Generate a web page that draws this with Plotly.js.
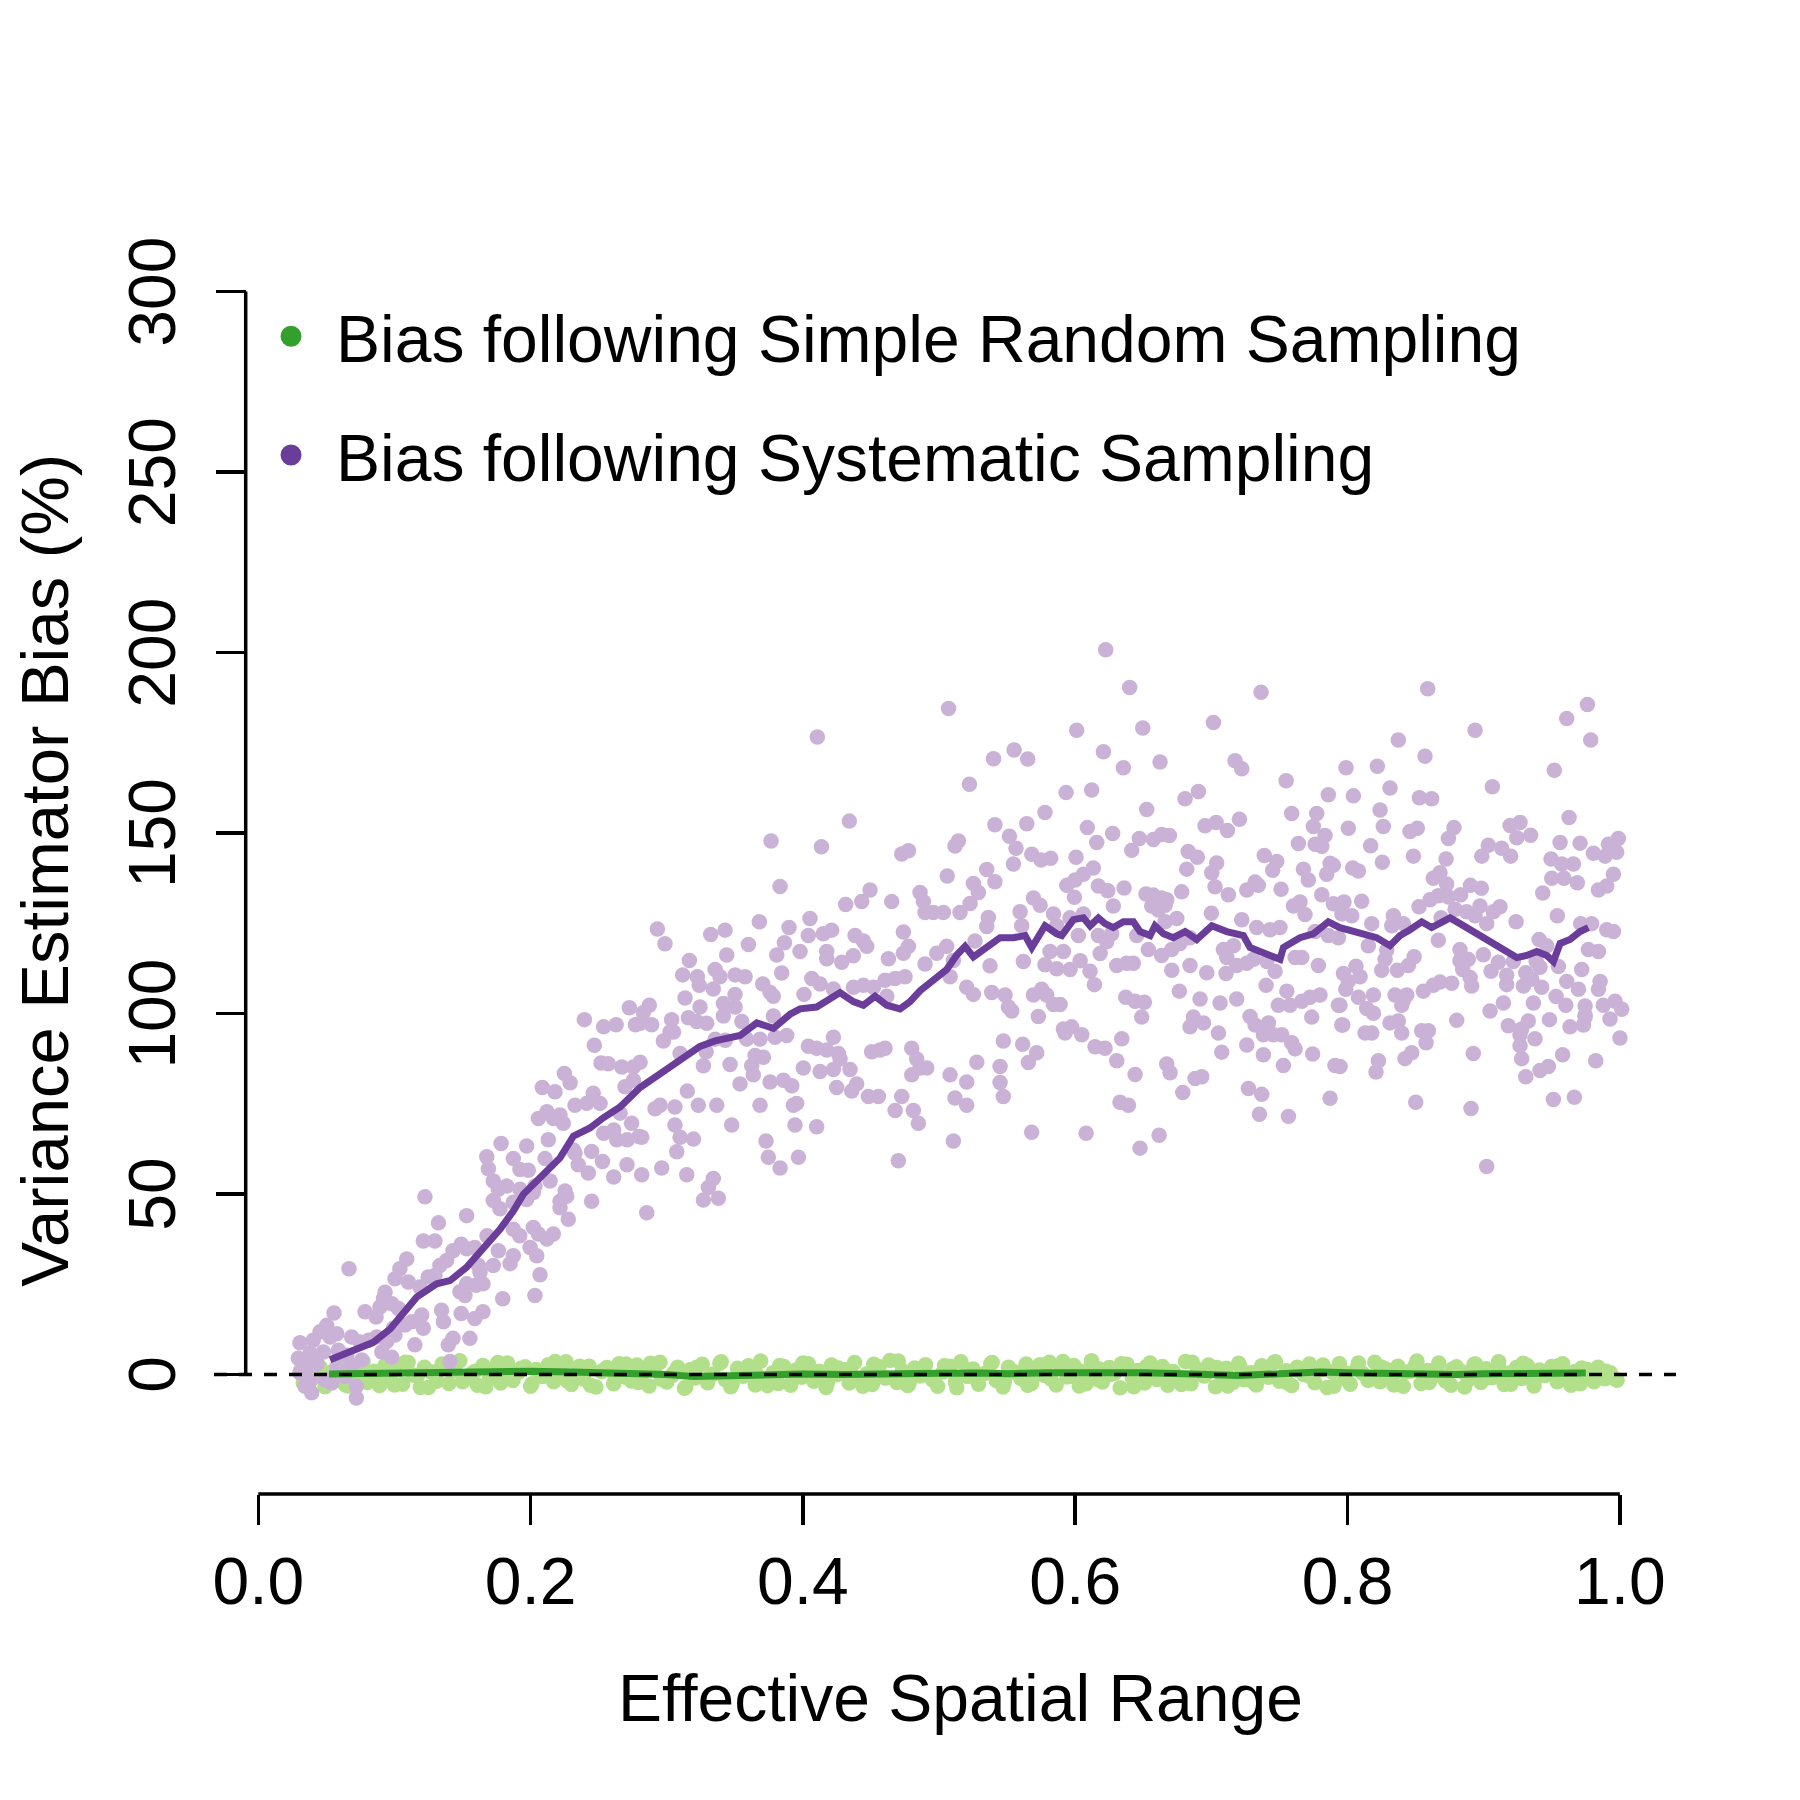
<!DOCTYPE html>
<html>
<head>
<meta charset="utf-8">
<script src="https://cdn.plot.ly/plotly-3.0.1.min.js"></script>
<style>html,body{margin:0;padding:0;background:#fff;}</style>
</head>
<body>
<div id="chart" style="width:1800px;height:1800px;"></div>
<script>
// ---------- DATA ----------
const xTickVals = [0, 0.2, 0.4, 0.6, 0.8, 1.0];
const xTickText = ["0.0", "0.2", "0.4", "0.6", "0.8", "1.0"];
const yTickVals = [0, 50, 100, 150, 200, 250, 300];
const yTickText = ["0", "50", "100", "150", "200", "250", "300"];

const seriesNames = ["Bias following Simple Random Sampling", "Bias following Systematic Sampling"];
const xTitle = "Effective Spatial Range";
const yTitle = "Variance Estimator Bias (%)";

// Simple random sampling: individual biases (x = effective range, y = bias %)
const srsX = [
0.031,0.034,0.038,0.041,0.045,0.049,0.052,0.056,0.061,0.064,
0.068,0.073,0.077,0.080,0.085,0.089,0.093,0.097,0.102,0.106,
0.110,0.114,0.119,0.122,0.127,0.131,0.135,0.140,0.144,0.148,
0.152,0.157,0.161,0.165,0.170,0.174,0.178,0.183,0.187,0.191,
0.196,0.200,0.204,0.209,0.213,0.217,0.222,0.226,0.230,0.235,
0.239,0.243,0.248,0.252,0.256,0.261,0.265,0.269,0.274,0.278,
0.282,0.287,0.291,0.295,0.300,0.304,0.308,0.313,0.317,0.321,
0.326,0.330,0.334,0.339,0.343,0.347,0.352,0.356,0.360,0.365,
0.369,0.373,0.378,0.382,0.386,0.391,0.395,0.399,0.404,0.408,
0.412,0.417,0.421,0.425,0.430,0.434,0.438,0.443,0.447,0.451,
0.456,0.460,0.464,0.469,0.473,0.477,0.482,0.486,0.490,0.495,
0.499,0.503,0.508,0.512,0.516,0.521,0.525,0.529,0.534,0.538,
0.542,0.547,0.551,0.555,0.560,0.564,0.568,0.573,0.577,0.581,
0.586,0.590,0.594,0.599,0.603,0.607,0.612,0.616,0.620,0.625,
0.629,0.633,0.638,0.642,0.646,0.651,0.655,0.659,0.664,0.668,
0.672,0.677,0.681,0.685,0.690,0.694,0.698,0.703,0.707,0.711,
0.716,0.720,0.724,0.729,0.733,0.737,0.742,0.746,0.750,0.755,
0.759,0.763,0.768,0.772,0.776,0.781,0.785,0.789,0.794,0.798,
0.802,0.807,0.811,0.815,0.820,0.824,0.828,0.833,0.837,0.841,
0.846,0.850,0.854,0.859,0.863,0.867,0.872,0.876,0.880,0.885,
0.889,0.893,0.898,0.902,0.906,0.911,0.915,0.919,0.924,0.928,
0.932,0.937,0.941,0.945,0.950,0.954,0.958,0.963,0.967,0.971,
0.976,0.980,0.984,0.989,0.993,0.998
];
const srsY = [
1.2,-2.3,3.1,-0.8,2.2,-3.4,0.5,-1.6,2.8,-2.9,
1.7,-0.4,3.6,-2.2,0.9,-3.1,2.4,-1.1,1.5,-2.7,
3.3,-0.2,-3.6,2.0,0.7,-1.9,2.9,-2.5,1.1,3.8,
-1.4,0.3,-3.0,2.5,-0.9,1.8,-2.4,3.2,-1.7,0.6,
2.1,-3.3,1.4,-0.6,2.7,-2.0,0.2,3.5,-2.8,1.0,
-1.3,2.3,-3.5,0.8,1.9,-2.6,3.0,-0.7,-1.8,2.6,
0.4,-3.2,1.6,3.4,-2.1,-0.3,2.0,-3.8,1.3,-1.0,
2.8,-2.3,0.1,3.1,-1.5,-3.4,1.7,-0.5,2.4,-2.9,
3.7,-1.2,0.5,-2.5,2.2,-3.0,1.2,-0.8,3.0,-1.9,
0.9,-3.6,2.6,-0.1,1.4,-2.4,3.3,-1.6,0.2,-2.8,
2.1,-0.9,3.9,-2.2,1.0,-3.1,1.8,-0.4,2.7,-1.4,
-3.3,0.7,2.3,-2.0,3.5,-0.6,1.5,-2.7,0.3,3.0,
-1.7,-3.5,2.0,0.6,-1.1,2.9,-2.5,1.2,-0.2,3.4,
-2.9,1.6,-0.7,2.5,-3.2,0.9,3.8,-1.3,-2.1,1.9,
0.4,-3.7,2.8,-1.0,1.1,-2.4,3.2,-0.5,2.2,-3.0,
0.8,-1.8,3.6,-2.6,1.4,-0.3,2.6,-3.4,0.1,1.7,
-2.2,3.1,-1.5,0.5,-2.9,2.4,-0.8,3.3,-1.9,1.0,
-3.1,2.0,-0.1,2.9,-2.3,1.3,-3.6,0.7,3.0,-1.2,
-2.7,1.8,0.3,-1.6,3.4,-2.0,1.5,-0.6,2.3,-3.3,
0.9,2.7,-2.5,1.1,-0.4,3.2,-1.8,-3.0,2.1,0.6,
-1.4,2.8,-2.2,1.6,-0.9,3.5,-2.8,0.4,1.9,-1.1,
2.5,-3.2,1.2,-0.3,2.2,-2.0,3.0,-1.5,0.8,-2.6,
1.4,-0.7,2.0,-1.2,0.5,-1.6
];
const srsX2 = [
0.033,0.043,0.050,0.059,0.066,0.075,0.083,0.091,0.100,0.108,
0.117,0.125,0.133,0.142,0.150,0.159,0.167,0.176,0.184,0.193,
0.201,0.210,0.218,0.227,0.236,0.244,0.253,0.262,0.270,0.279,
0.288,0.296,0.305,0.314,0.322,0.331,0.340,0.348,0.357,0.366,
0.374,0.383,0.392,0.400,0.409,0.418,0.426,0.435,0.444,0.452,
0.461,0.470,0.478,0.487,0.496,0.504,0.513,0.522,0.530,0.539,
0.548,0.556,0.565,0.574,0.582,0.591,0.600,0.608,0.617,0.626,
0.634,0.643,0.652,0.660,0.669,0.678,0.686,0.695,0.704,0.712,
0.721,0.730,0.738,0.747,0.756,0.764,0.773,0.782,0.790,0.799,
0.808,0.816,0.825,0.834,0.842,0.851,0.860,0.868,0.877,0.886,
0.894,0.903,0.912,0.920,0.929,0.938,0.946,0.955,0.964,0.972,
0.981,0.990,0.996
];
const srsY2 = [
-2.4,1.9,-0.7,3.0,-3.2,2.2,-1.5,0.6,-2.9,3.4,
-0.3,-3.6,1.2,2.6,-2.0,0.8,-3.4,3.3,-1.1,1.7,
-2.6,0.2,3.6,-1.8,2.3,-3.0,1.0,-0.5,2.9,-2.2,
3.1,-1.3,0.4,-3.5,2.0,-0.9,3.5,-2.7,1.4,-0.1,
-3.1,2.5,-1.6,3.2,-0.6,-2.3,1.8,0.5,-3.3,2.8,
-1.0,3.7,-2.5,0.9,-1.7,2.4,-3.7,1.3,-0.2,3.3,
-2.1,0.7,-3.0,2.7,-1.2,3.6,-0.8,-2.6,1.6,0.0,
3.0,-3.4,2.1,-1.4,0.5,-2.8,3.4,-0.4,1.9,-3.2,
2.3,-1.9,0.8,3.5,-2.4,1.1,-0.7,2.6,-3.3,0.3,
3.2,-1.5,2.0,-2.9,0.6,3.7,-2.2,-0.2,1.5,-3.5,
2.9,-0.9,1.2,-2.7,3.1,-1.3,0.4,2.4,-3.0,1.8,
-2.0,0.9,-1.1
];

// Simple random sampling: running mean
const srsLineX = [0.052,0.08,0.1,0.13,0.15,0.18,0.2,0.23,0.25,0.28,0.3,0.32,0.34,0.37,0.4,0.43,0.45,0.48,0.5,0.53,0.55,0.58,0.6,0.63,0.65,0.68,0.7,0.72,0.75,0.78,0.8,0.83,0.85,0.88,0.9,0.93,0.95,0.975];
const srsLineY = [0.1,0.3,0.4,0.6,0.5,0.8,0.9,0.7,0.6,0.3,0.0,-0.6,-0.4,-0.1,0.1,0.0,0.2,0.1,0.3,0.4,0.2,0.5,0.6,0.8,0.5,0.2,-0.2,-0.3,0.2,0.7,0.5,0.2,-0.1,0.0,0.2,0.3,0.4,0.4];

// Systematic sampling: individual biases as [x, y] pairs, range 0.03 - 0.28
const sysPtsLow = [
[0.2725,101.6],[0.2395,98.3],[0.2536,96.3],[0.2628,96.9],[0.277,96.9],[0.2468,91.2],[0.2517,86.3],[0.257,86.1],[0.267,85.2],[0.2755,85.2],
[0.2248,83.4],[0.2086,79.5],[0.2179,78.3],[0.229,80.8],[0.2694,79.7],[0.2755,81.5],[0.2326,74.6],[0.2412,75.1],[0.246,77.9],[0.251,75.1],
[0.212,72.8],[0.2216,71.9],[0.2057,70.9],[0.2167,70.9],[0.224,69.6],[0.2657,72.4],[0.2742,69.6],[0.2536,66.8],[0.261,67.7],[0.2633,65.0],
[0.271,65.0],[0.2795,65.9],[0.1783,64.0],[0.1971,63.3],[0.213,65.0],[0.2314,62.2],[0.2448,61.8],[0.2528,59.0],[0.1873,59.8],[0.1922,56.8],
[0.1983,56.6],[0.2106,59.8],[0.2326,61.3],[0.235,58.1],[0.2424,55.8],[0.261,54.7],[0.2708,58.1],[0.1678,60.3],[0.169,57.0],[0.2143,53.6],
[0.1726,53.6],[0.1763,51.3],[0.1825,52.2],[0.1922,51.3],[0.2032,52.2],[0.202,50.4],[0.1726,48.2],[0.1775,45.9],[0.1873,47.7],[0.197,48.5],
[0.2216,48.0],[0.2253,50.8],[0.2265,49.4],[0.2216,46.2],[0.2448,48.0],[0.2277,43.0],[0.1224,49.2],[0.153,44.0],[0.1323,42.0],[0.168,38.4],
[0.159,35.2],[0.1873,40.2],[0.192,38.4],[0.202,40.7],[0.2057,38.9],[0.212,37.5],[0.2167,38.9],[0.1996,35.2],[0.2045,32.9],[0.1763,34.3],
[0.1726,30.2],[0.1849,30.7],[0.1873,32.9],[0.2069,27.6],[0.2032,21.9],[0.1795,21.0],[0.1212,37.0],[0.1297,37.0],[0.143,34.3],[0.149,36.1],
[0.153,34.8],[0.1383,31.6],[0.1334,30.2],[0.1297,27.4],[0.1248,27.0],[0.109,32.0],[0.104,29.3],[0.1004,26.5],[0.1102,25.6],[0.1187,24.2],
[0.153,25.1],[0.160,24.7],[0.1628,28.3],[0.1616,30.2],[0.165,25.1],[0.1481,22.9],[0.1518,21.9],[0.1346,17.8],[0.136,14.6],[0.149,16.9],
[0.159,15.5],[0.165,17.4],[0.143,10.0],[0.1395,8.2],[0.1554,10.0],[0.1408,3.6],[0.115,8.2],[0.1212,12.8],[0.12,16.5],[0.1127,14.6],
[0.1078,13.7],[0.1029,18.3],[0.098,19.6],[0.0894,18.7],[0.0784,17.4],[0.0865,15.9],[0.0931,22.8],[0.0919,21.0],[0.0992,12.8],[0.0943,9.1],
[0.1004,10.9],[0.0666,29.3],[0.0556,17.0],[0.0502,13.6],[0.0453,11.8],[0.0576,11.3],[0.0306,8.8],[0.0404,9.5],[0.0686,10.4],[0.0747,9.0],
[0.081,9.5],[0.087,10.4],[0.0907,6.2],[0.098,4.8],[0.0294,4.5],[0.038,5.9],[0.0478,6.2],[0.0588,6.7],[0.065,5.3],[0.076,4.0],
[0.0367,2.1],[0.043,3.0],[0.0306,0.4],[0.038,-1.9],[0.049,-1.5],[0.0539,-2.4],[0.0343,-3.3],[0.0392,-5.1],[0.072,-3.3],[0.072,-6.5],
[0.0637,-0.6],[0.0576,2.1],[0.0686,2.6],[0.0527,10.4]
];

// Systematic sampling: range 0.28 - 0.545
const sysPtsMid = [
[0.507,184.5],[0.4106,176.6],[0.540,170.6],[0.5223,163.5],[0.4341,153.3],[0.541,152.3],[0.3766,147.8],[0.4136,146.2],[0.5142,147.8],[0.5117,146.4],
[0.4726,144.2],[0.4775,145.1],[0.506,138.1],[0.3832,135.2],[0.535,139.9],[0.541,136.5],[0.5252,136.0],[0.4314,130.2],[0.4432,131.0],[0.4493,134.2],
[0.4652,131.0],[0.486,133.5],[0.4885,131.0],[0.4897,128.0],[0.4958,128.0],[0.5032,128.0],[0.5154,128.0],[0.5228,130.5],[0.5289,133.5],[0.2931,123.4],
[0.2987,119.3],[0.3323,121.9],[0.3428,123.1],[0.368,125.4],[0.36,119.1],[0.3898,123.8],[0.4052,126.3],[0.404,121.6],[0.3864,119.6],[0.3979,117.2],
[0.3808,116.2],[0.415,122.1],[0.4211,123.1],[0.4175,117.2],[0.4175,115.2],[0.4383,121.6],[0.4444,120.1],[0.4469,118.6],[0.4285,114.2],[0.437,116.0],
[0.4738,122.6],[0.4775,118.6],[0.4738,116.7],[0.4628,115.2],[0.4897,113.7],[0.4983,116.7],[0.5056,118.6],[0.5105,114.7],[0.5264,120.1],[0.535,124.1],
[0.5362,126.6],[0.5374,113.2],[0.5081,110.2],[0.5203,107.3],[0.5252,105.3],[0.5387,105.8],[0.3166,114.7],[0.3117,110.7],[0.3225,110.2],[0.3355,112.2],
[0.3391,110.2],[0.3502,110.7],[0.3575,110.2],[0.344,116.2],[0.3239,107.8],[0.3342,106.8],[0.3502,105.3],[0.3705,108.2],[0.3759,105.8],[0.3783,104.8],
[0.3844,111.2],[0.4008,105.3],[0.4065,109.7],[0.4126,108.2],[0.4224,106.8],[0.4371,107.3],[0.4444,107.8],[0.4518,107.3],[0.4603,109.2],[0.4677,109.7],
[0.475,110.2],[0.4616,104.8],[0.3134,104.3],[0.3159,98.8],[0.3244,101.8],[0.3416,102.8],[0.3416,99.3],[0.3502,101.8],[0.3551,97.8],[0.3783,99.3],
[0.3795,93.4],[0.3881,93.9],[0.3685,92.9],[0.3587,92.9],[0.3430,92.6],[0.3355,92.9],[0.3293,97.3],[0.322,97.8],[0.3036,98.3],[0.3049,94.9],
[0.2828,100.3],[0.2872,102.3],[0.2804,97.3],[0.2889,96.9],[0.2975,92.4],[0.3024,94.9],[0.3098,88.9],[0.3269,85.5],[0.3289,89.4],[0.3465,85.9],
[0.3538,80.5],[0.3649,88.4],[0.3624,85.5],[0.3636,83.0],[0.371,87.9],[0.3759,81.0],[0.3857,81.5],[0.3918,80.0],[0.4003,84.9],[0.404,90.9],
[0.4101,90.4],[0.4175,89.9],[0.4224,93.4],[0.426,88.9],[0.4273,87.4],[0.4126,83.9],[0.4224,84.5],[0.4346,84.5],[0.4248,79.5],[0.4395,80.5],
[0.4358,78.5],[0.4481,77.0],[0.4554,77.0],[0.4505,89.4],[0.4566,89.9],[0.4603,90.4],[0.4799,90.4],[0.4836,87.4],[0.486,84.9],[0.4799,83.0],
[0.4909,84.9],[0.5081,83.0],[0.5203,81.0],[0.5277,86.5],[0.5117,76.6],[0.5203,74.6],[0.5105,64.7],[0.4726,77.0],[0.4677,73.1],[0.4811,73.1],
[0.4848,69.6],[0.4701,59.2],[0.3954,75.1],[0.4101,68.6],[0.3942,69.1],[0.393,74.6],[0.3685,74.6],[0.3729,64.7],[0.3746,60.2],[0.3832,57.2],
[0.3967,60.2],[0.3477,69.1],[0.3367,74.6],[0.3232,74.6],[0.3151,78.5],[0.306,74.1],[0.306,69.1],[0.3098,65.7],[0.3196,65.2],[0.3073,61.7],
[0.3147,55.3],[0.3342,54.3],[0.3306,51.8],[0.3269,48.3],[0.3379,48.8],[0.2963,57.2],[0.2816,55.3],[0.2853,44.8],[0.2816,65.7],[0.2914,73.6],
[0.2951,74.6],[0.2804,86.5]
];

// Systematic sampling: range 0.545 - 0.797
const sysPtsHigh = [
[0.6224,200.8],[0.6400,190.3],[0.7365,189.0],[0.6011,178.5],[0.6496,179.1],[0.7015,180.6],[0.5551,173.0],[0.5651,170.5],[0.6207,172.5],[0.6354,168.1],
[0.6623,169.7],[0.7174,170.0],[0.7223,167.8],[0.7549,164.5],[0.5933,161.2],[0.6121,161.9],[0.5778,155.7],[0.6525,156.5],[0.6807,159.5],[0.6905,161.5],
[0.7859,160.6],[0.5644,152.6],[0.6089,151.5],[0.6275,149.9],[0.6471,148.5],[0.6574,148.2],[0.6635,149.6],[0.6692,149.3],[0.6954,152.0],[0.7035,152.9],
[0.7118,150.7],[0.7206,153.8],[0.7590,155.4],[0.7774,155.4],[0.7749,151.8],[0.7835,149.3],[0.7762,146.9],[0.7639,147.1],[0.7811,146.3],[0.5517,149.1],
[0.5565,145.8],[0.5681,144.1],[0.5749,142.5],[0.5820,143.0],[0.5546,141.4],[0.6006,143.3],[0.6158,147.4],[0.6415,145.2],[0.6830,144.9],[0.6897,143.3],
[0.6819,140.0],[0.7039,141.7],[0.7003,139.0],[0.7389,143.8],[0.7480,142.1],[0.7450,139.7],[0.7676,140.0],[0.7712,137.0],[0.7847,138.6],[0.7896,141.1],
[0.7872,141.6],[0.5938,135.5],[0.5999,137.0],[0.6060,138.6],[0.6133,140.3],[0.6170,135.3],[0.6239,134.0],[0.6359,134.8],[0.5994,132.2],[0.6520,133.1],
[0.6574,132.8],[0.6635,132.0],[0.6672,131.5],[0.6782,133.7],[0.7125,132.9],[0.7027,135.1],[0.7260,134.2],[0.7321,136.4],[0.7345,135.5],[0.7512,134.4],
[0.7811,132.9],[0.7896,130.4],[0.7970,130.7],[0.7651,130.9],[0.7688,127.4],[0.7603,129.8],[0.5693,132.0],[0.5742,130.0],[0.5595,128.2],[0.5840,127.6],
[0.6280,129.8],[0.6562,129.8],[0.6611,128.7],[0.6660,130.0],[0.7000,127.8],[0.7223,126.0],[0.7333,123.8],[0.7431,123.2],[0.7504,123.8],[0.7958,127.6],
[0.5607,124.3],[0.5864,124.3],[0.5962,126.5],[0.6060,127.6],[0.6660,125.4],[0.6746,126.3],[0.6023,121.6],[0.6170,121.6],[0.6231,119.9],[0.6268,122.1],
[0.6452,121.6],[0.6537,117.7],[0.6635,116.1],[0.6709,117.7],[0.6770,119.4],[0.6843,121.0],[0.7088,117.7],[0.7162,118.8],[0.7113,115.5],[0.7762,122.7],
[0.7859,121.6],[0.7933,121.0],[0.5619,114.4],[0.5815,117.2],[0.5913,117.2],[0.5778,113.5],[0.5864,112.4],[0.5962,112.2],[0.6036,114.6],[0.6183,116.6],
[0.6109,111.7],[0.6141,108.0],[0.6305,113.3],[0.6378,113.9],[0.6427,113.9],[0.6709,112.0],[0.6843,113.3],[0.6966,111.3],[0.7108,111.1],[0.7186,113.3],
[0.7260,113.9],[0.7309,115.0],[0.7407,114.4],[0.7468,111.7],[0.7615,115.5],[0.7664,115.5],[0.7786,113.3],[0.5485,105.1],[0.5509,101.8],[0.5534,100.7],
[0.5693,105.1],[0.5754,106.7],[0.5790,105.1],[0.5840,102.5],[0.5889,102.5],[0.5729,99.2],[0.5913,95.7],[0.5974,96.3],[0.6048,94.1],[0.6146,90.8],
[0.6219,90.4],[0.6342,93.0],[0.6305,86.9],[0.6371,104.5],[0.6440,103.4],[0.6508,103.1],[0.6488,99.0],[0.6765,106.2],[0.6917,104.0],[0.7064,102.9],
[0.7186,104.0],[0.7284,99.2],[0.7402,107.8],[0.6868,99.0],[0.6843,96.3],[0.6942,97.4],[0.7052,94.6],[0.7321,96.8],[0.7382,94.1],[0.7419,97.4],
[0.7456,94.1],[0.7517,94.1],[0.7492,102.3],[0.7554,106.2],[0.7578,102.3],[0.7664,103.4],[0.7725,104.5],[0.7798,105.1],[0.7737,99.0],[0.7933,102.3],
[0.7958,96.8],[0.7590,91.9],[0.7615,90.2],[0.7382,88.6],[0.7260,91.3],[0.7076,89.3],[0.6929,82.5],[0.6880,82.0],[0.6790,78.1],[0.6672,86.0],
[0.6697,83.6],[0.6440,83.1],[0.6329,75.4],[0.6391,74.6],[0.7272,79.2],[0.7370,77.6],[0.7353,72.1],[0.7566,71.5],[0.7529,85.6],[0.7744,88.8],
[0.7872,76.5],[0.7908,85.6],[0.5680,67.1],[0.6080,66.8],[0.6616,66.3],[0.6476,62.7],[0.5472,92.4],[0.5448,85.3],[0.5448,80.9],[0.5472,77.0],
[0.5656,86.4],[0.5717,89.1],[0.5614,91.5],[0.5925,94.6]
];

// Systematic sampling: range 0.795 - 1.0
const sysPtsTop = [
[0.8589,190.0],[0.9762,185.6],[0.961,181.7],[0.9786,175.8],[0.8937,178.5],[0.8373,175.8],[0.8569,171.3],[0.7989,168.1],[0.8219,168.5],[0.9519,167.4],
[0.9064,162.8],[0.8312,162.5],[0.8043,160.3],[0.8528,159.8],[0.8618,159.5],[0.8239,156.4],[0.9627,154.3],[0.8006,151.3],[0.8263,151.8],[0.8459,150.4],
[0.8513,151.3],[0.8782,151.5],[0.8741,148.5],[0.9194,152.1],[0.9267,152.9],[0.9345,149.4],[0.9243,148.7],[0.9561,147.4],[0.9708,147.2],[0.9989,148.5],
[0.9916,146.9],[0.8170,146.5],[0.9034,146.6],[0.8986,143.6],[0.9132,145.8],[0.9198,143.6],[0.8484,143.6],[0.8256,141.9],[0.8724,142.8],[0.9495,142.8],
[0.9573,141.4],[0.9659,141.4],[0.9806,144.4],[0.9892,143.6],[0.9977,144.7],[0.8038,140.3],[0.8080,139.5],[0.8679,139.0],[0.8630,137.5],[0.8728,135.9],
[0.9500,137.5],[0.9590,137.5],[0.9688,136.2],[0.9953,138.6],[0.9843,134.2],[0.9904,135.3],[0.8903,135.5],[0.8983,134.7],[0.9434,133.4],[0.7974,130.9],
[0.8104,131.1],[0.8525,129.6],[0.8606,131.5],[0.8667,132.6],[0.8741,132.3],[0.8831,132.9],[0.8790,128.9],[0.8875,128.2],[0.8973,129.8],[0.9071,128.2],
[0.9120,129.6],[0.8031,127.1],[0.8337,127.1],[0.8410,124.9],[0.8325,124.3],[0.8178,124.9],[0.8687,126.5],[0.8937,127.1],[0.9022,124.9],[0.9238,125.4],
[0.9541,127.1],[0.9713,124.9],[0.9793,124.9],[0.9904,123.2],[0.9953,122.7],[0.8667,120.3],[0.8153,118.8],[0.9407,120.5],[0.9463,118.8],[0.9769,117.7],
[0.9843,117.2],[0.8288,117.5],[0.8826,117.7],[0.8887,115.0],[0.8998,116.3],[0.8489,115.7],[0.8276,115.0],[0.8826,114.6],[0.8062,113.1],[0.9108,114.2],
[0.9218,114.4],[0.9385,114.4],[0.7970,111.1],[0.8092,110.2],[0.8366,112.0],[0.8447,113.3],[0.8846,112.2],[0.8900,110.0],[0.9054,111.7],[0.9169,110.6],
[0.9309,111.3],[0.9414,112.8],[0.9549,113.0],[0.9720,112.2],[0.8251,112.0],[0.8006,108.9],[0.7987,106.7],[0.8557,106.2],[0.8630,107.8],[0.8679,108.7],
[0.8765,108.4],[0.8912,107.6],[0.9169,108.0],[0.9292,107.6],[0.9426,107.3],[0.9353,109.5],[0.9610,108.9],[0.9696,106.7],[0.9855,108.9],[0.9843,106.7],
[0.8080,104.5],[0.8190,105.1],[0.8349,105.1],[0.8410,103.6],[0.8435,105.1],[0.7945,102.3],[0.8141,101.4],[0.8190,100.1],[0.8398,102.3],[0.9047,100.7],
[0.9145,102.9],[0.9365,102.9],[0.9532,104.7],[0.9603,102.3],[0.9745,102.1],[0.9745,99.6],[0.9879,102.3],[0.9965,103.4],[1.0014,101.2],[0.9928,98.5],
[0.8312,97.4],[0.8373,97.9],[0.7965,96.8],[0.8802,98.1],[0.9483,98.3],[0.9181,96.6],[0.9279,95.7],[0.9328,97.9],[0.9267,94.1],[0.9377,93.0],
[0.9634,96.3],[0.9733,96.8],[0.9745,99.0],[1.0001,93.2],[0.8545,95.2],[0.8594,95.2],[0.8577,91.9],[0.8129,94.6],[0.8178,94.6],[0.8398,94.6],
[0.9267,91.1],[0.9279,87.5],[0.9309,82.5],[0.9414,84.2],[0.9475,85.3],[0.9580,88.6],[0.9823,86.9],[0.8924,88.9],[0.8471,89.1],[0.8422,87.5],
[0.8227,86.9],[0.8209,83.8],[0.7945,85.3],[0.8501,75.4],[0.8907,73.7],[0.9512,76.2],[0.9666,76.8],[0.9022,57.6]
];

// Systematic sampling: running mean
const sysLineX = [0.0527,0.0747,0.0845,0.0968,0.1163,0.131,0.1408,0.153,0.1678,0.1775,0.1873,0.1946,0.2093,0.2216,0.2314,0.2436,0.2534,0.2657,0.2804,0.2951,0.3098,0.3244,0.3355,0.3465,0.3538,0.3661,0.3783,0.3906,0.3979,0.4101,0.4199,0.4273,0.437,0.4444,0.453,0.4616,0.4714,0.4787,0.486,0.4958,0.5056,0.513,0.5191,0.5252,0.535,0.5448,0.5546,0.5632,0.5681,0.5778,0.5864,0.5901,0.5987,0.606,0.6109,0.617,0.6219,0.628,0.6354,0.6427,0.6476,0.655,0.6586,0.6648,0.6721,0.6807,0.6892,0.7003,0.7113,0.7235,0.7284,0.7407,0.7504,0.7529,0.7651,0.7749,0.7859,0.7945,0.8043,0.8129,0.8214,0.8312,0.8386,0.8459,0.8545,0.8618,0.8679,0.8753,0.8826,0.8924,0.9022,0.9096,0.9169,0.9243,0.9316,0.939,0.9463,0.9512,0.9561,0.9634,0.9708,0.9769];
const sysLineY = [4.1,7.1,8.9,12.6,21.4,25.1,26.0,29.7,36.1,40.2,45.3,49.9,55.4,60.0,66.0,68.3,71.1,74.1,79.5,83.5,87.4,90.9,92.4,93.4,93.9,97.4,95.9,99.8,101.3,101.8,103.8,105.8,103.3,102.3,104.8,102.3,101.3,103.3,106.3,109.2,112.2,116.2,118.6,115.7,118.6,121.0,121.0,121.6,118.3,124.3,122.1,121.6,126.0,126.5,124.3,126.5,124.9,123.8,125.4,125.4,122.7,121.6,124.3,122.1,121.0,122.7,120.5,124.3,122.7,121.6,118.3,116.6,115.0,118.3,121.0,122.1,125.4,123.8,122.7,121.6,121.0,118.8,121.6,123.2,125.4,123.8,124.9,126.5,124.9,122.7,121.0,118.8,117.7,115.5,116.1,117.2,116.1,114.4,119.4,120.5,122.7,123.8];

// ---------- STYLE ----------
const FONT = '"Liberation Sans", Arial, Helvetica, sans-serif';
const FS = 66;
const C_SRS_LIGHT = '#B2DF8A', C_SRS_DARK = '#33A02C';
const C_SYS_LIGHT = '#CAB2D6', C_SYS_DARK = '#6A3D9A';

const sysPts = sysPtsLow.concat(sysPtsMid, sysPtsHigh, sysPtsTop);
const sysX = sysPts.map(p => p[0]);
const sysY = sysPts.map(p => p[1]);

const traces = [
  {type:'scatter', mode:'markers', x: srsX.concat(srsX2), y: srsY.concat(srsY2), showlegend:false, hoverinfo:'skip',
   marker:{color:C_SRS_LIGHT, size:15.5, line:{width:0}}},
  {type:'scatter', mode:'markers', x: sysX, y: sysY, showlegend:false, hoverinfo:'skip',
   marker:{color:C_SYS_LIGHT, size:15.5, line:{width:0}}},
  {type:'scatter', mode:'lines', x: srsLineX, y: srsLineY, showlegend:false, hoverinfo:'skip',
   line:{color:C_SRS_DARK, width:7}},
  {type:'scatter', mode:'lines', x: sysLineX, y: sysLineY, showlegend:false, hoverinfo:'skip',
   line:{color:C_SYS_DARK, width:7}},
  // legend entries
  {type:'scatter', mode:'markers', x:[null], y:[null], name: seriesNames[0], legendgroup:'srs',
   marker:{color:C_SRS_DARK, size:16, line:{color:C_SRS_DARK, width:5}}},
  {type:'scatter', mode:'markers', x:[null], y:[null], name: seriesNames[1], legendgroup:'sys',
   marker:{color:C_SYS_DARK, size:16, line:{color:C_SYS_DARK, width:5}}},
  // carrier for the tick-label axis
  {type:'scatter', mode:'markers', x:[null], y:[null], yaxis:'y2', showlegend:false, hoverinfo:'skip'}
];

const yAxisPos = 0.02168;
const yRange = [-33.12, 311.53];
// rotated labels are drawn 0.15*fontsize too high by plotly: shift the label axis by that many px
const labelShift = 0.15 * FS / 3.6083;
const axisFont = {family:FONT, size:FS, color:'#000'};
const layout = {
  width:1800, height:1800,
  margin:{l:214, r:124, t:250, b:306.4, pad:0},
  paper_bgcolor:'#ffffff', plot_bgcolor:'#ffffff',
  font:{family:FONT, size:FS, color:'#000000'},
  showlegend:true,
  legend:{x:0.0219, xanchor:'left', y:0.9704, yanchor:'top', font:axisFont,
          itemwidth:80, tracegroupgap:30, bgcolor:'rgba(0,0,0,0)', borderwidth:0, traceorder:'grouped'},
  xaxis:{range:[-0.03254, 1.04126], tickvals:xTickVals, ticktext:xTickText, ticks:'outside', ticklen:30,
         tickwidth:3.5, tickcolor:'#000', showline:false, showgrid:false, zeroline:false,
         tickfont:axisFont},
  yaxis:{range:yRange, anchor:'free', position:yAxisPos, tickvals:yTickVals, ticktext:yTickText,
         showticklabels:false, ticks:'outside', ticklen:30, tickwidth:3.5, tickcolor:'#000',
         showline:false, showgrid:false, zeroline:false},
  yaxis2:{overlaying:'y', anchor:'free', position:yAxisPos, side:'left',
          range:[yRange[0] + labelShift, yRange[1] + labelShift],
          tickvals:yTickVals, ticktext:yTickText, tickangle:-90,
          ticks:'outside', ticklen:30, tickwidth:1, tickcolor:'rgba(0,0,0,0)', ticklabelstandoff:14,
          showline:false, showgrid:false, zeroline:false, tickfont:axisFont},
  annotations:[
    {text:xTitle, xref:'paper', yref:'paper', x:0.5103, y:-0.16436, xanchor:'center', yanchor:'middle',
     showarrow:false, font:axisFont},
    {text:yTitle, xref:'paper', yref:'paper', x:-0.1156, y:0.5018, xanchor:'center', yanchor:'middle',
     textangle:-90, showarrow:false, font:{family:FONT, size:67, color:'#000'}}
  ],
  shapes:[
    {type:'line', xref:'paper', yref:'y', x0:yAxisPos, x1:yAxisPos, y0:0, y1:300, line:{color:'#000', width:3.5}},
    {type:'line', xref:'x', yref:'paper', x0:0, x1:1, y0:0, y1:0, line:{color:'#000', width:3.5}},
    {type:'line', xref:'paper', yref:'y', x0:0, x1:1, y0:0, y1:0, layer:'above', line:{color:'#000', width:3.5, dash:'13px,12px'}}
  ]
};

Plotly.newPlot('chart', traces, layout, {displayModeBar:false, staticPlot:true});
</script>
</body>
</html>
